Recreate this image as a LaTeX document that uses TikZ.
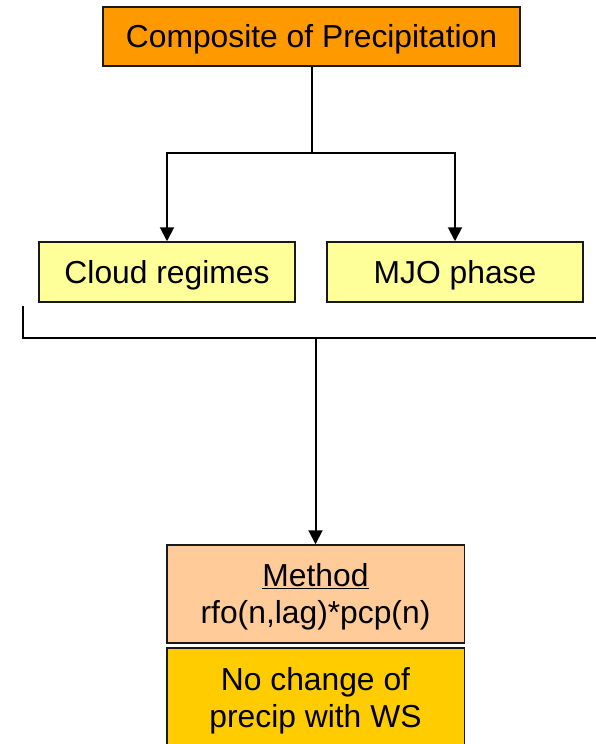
\documentclass[tikz,border=0pt]{standalone}
\usepackage{fontspec}
\setmainfont{Liberation Sans}
\usetikzlibrary{arrows.meta}
\definecolor{topfill}{HTML}{FF9900}
\definecolor{lightyellow}{HTML}{FFFF99}
\definecolor{peach}{HTML}{FFCC99}
\definecolor{gold}{HTML}{FFCC00}
\begin{document}
\begin{tikzpicture}[x=1pt,y=-1pt,
  box/.style={draw=black!90, line width=1.5pt, inner sep=0pt, align=center,
    font=\fontsize{31.8}{37}\selectfont},
  oneline/.style={text height=28.8pt, text depth=6.7pt},
  twoline/.style={text height=65.8pt, text depth=6.7pt},
  conn/.style={draw=black, line width=2pt},
  arrowconn/.style={conn, -{Triangle[width=14pt,length=14pt]}}]
\clip (0,0) rectangle (596,744);
\fill[white] (0,0) rectangle (596,744);
\node[box, oneline, fill=topfill, minimum width=417pt, minimum height=59pt] (top) at (311.5,36.5) {Composite of Precipitation};
\node[box, oneline, fill=lightyellow, minimum width=256pt, minimum height=60pt] (cloud) at (167,272) {Cloud regimes};
\node[box, oneline, fill=lightyellow, minimum width=256pt, minimum height=60pt] (mjo) at (455,272) {MJO phase};
\node[box, twoline, fill=peach, minimum width=297.5pt, minimum height=98pt] (method) at (315.5,594) {\underline{Method}\\rfo(n,lag)*pcp(n)};
\node[box, twoline, fill=gold, minimum width=297.5pt, minimum height=100pt] (nochange) at (315.5,698) {No change of\\precip with WS};
\coordinate (split) at (311.5,153);
\draw[conn] (top.south) -- (split);
\draw[arrowconn] (split) -| (cloud.north);
\draw[arrowconn] (split) -| (mjo.north);
\coordinate (bl) at (23,306);
\coordinate (br) at (600,338);
\coordinate (bj) at (315.5,338);
\draw[conn] (bl) |- (br);
\draw[arrowconn] (bj) -- (method.north);
\end{tikzpicture}
\end{document}
